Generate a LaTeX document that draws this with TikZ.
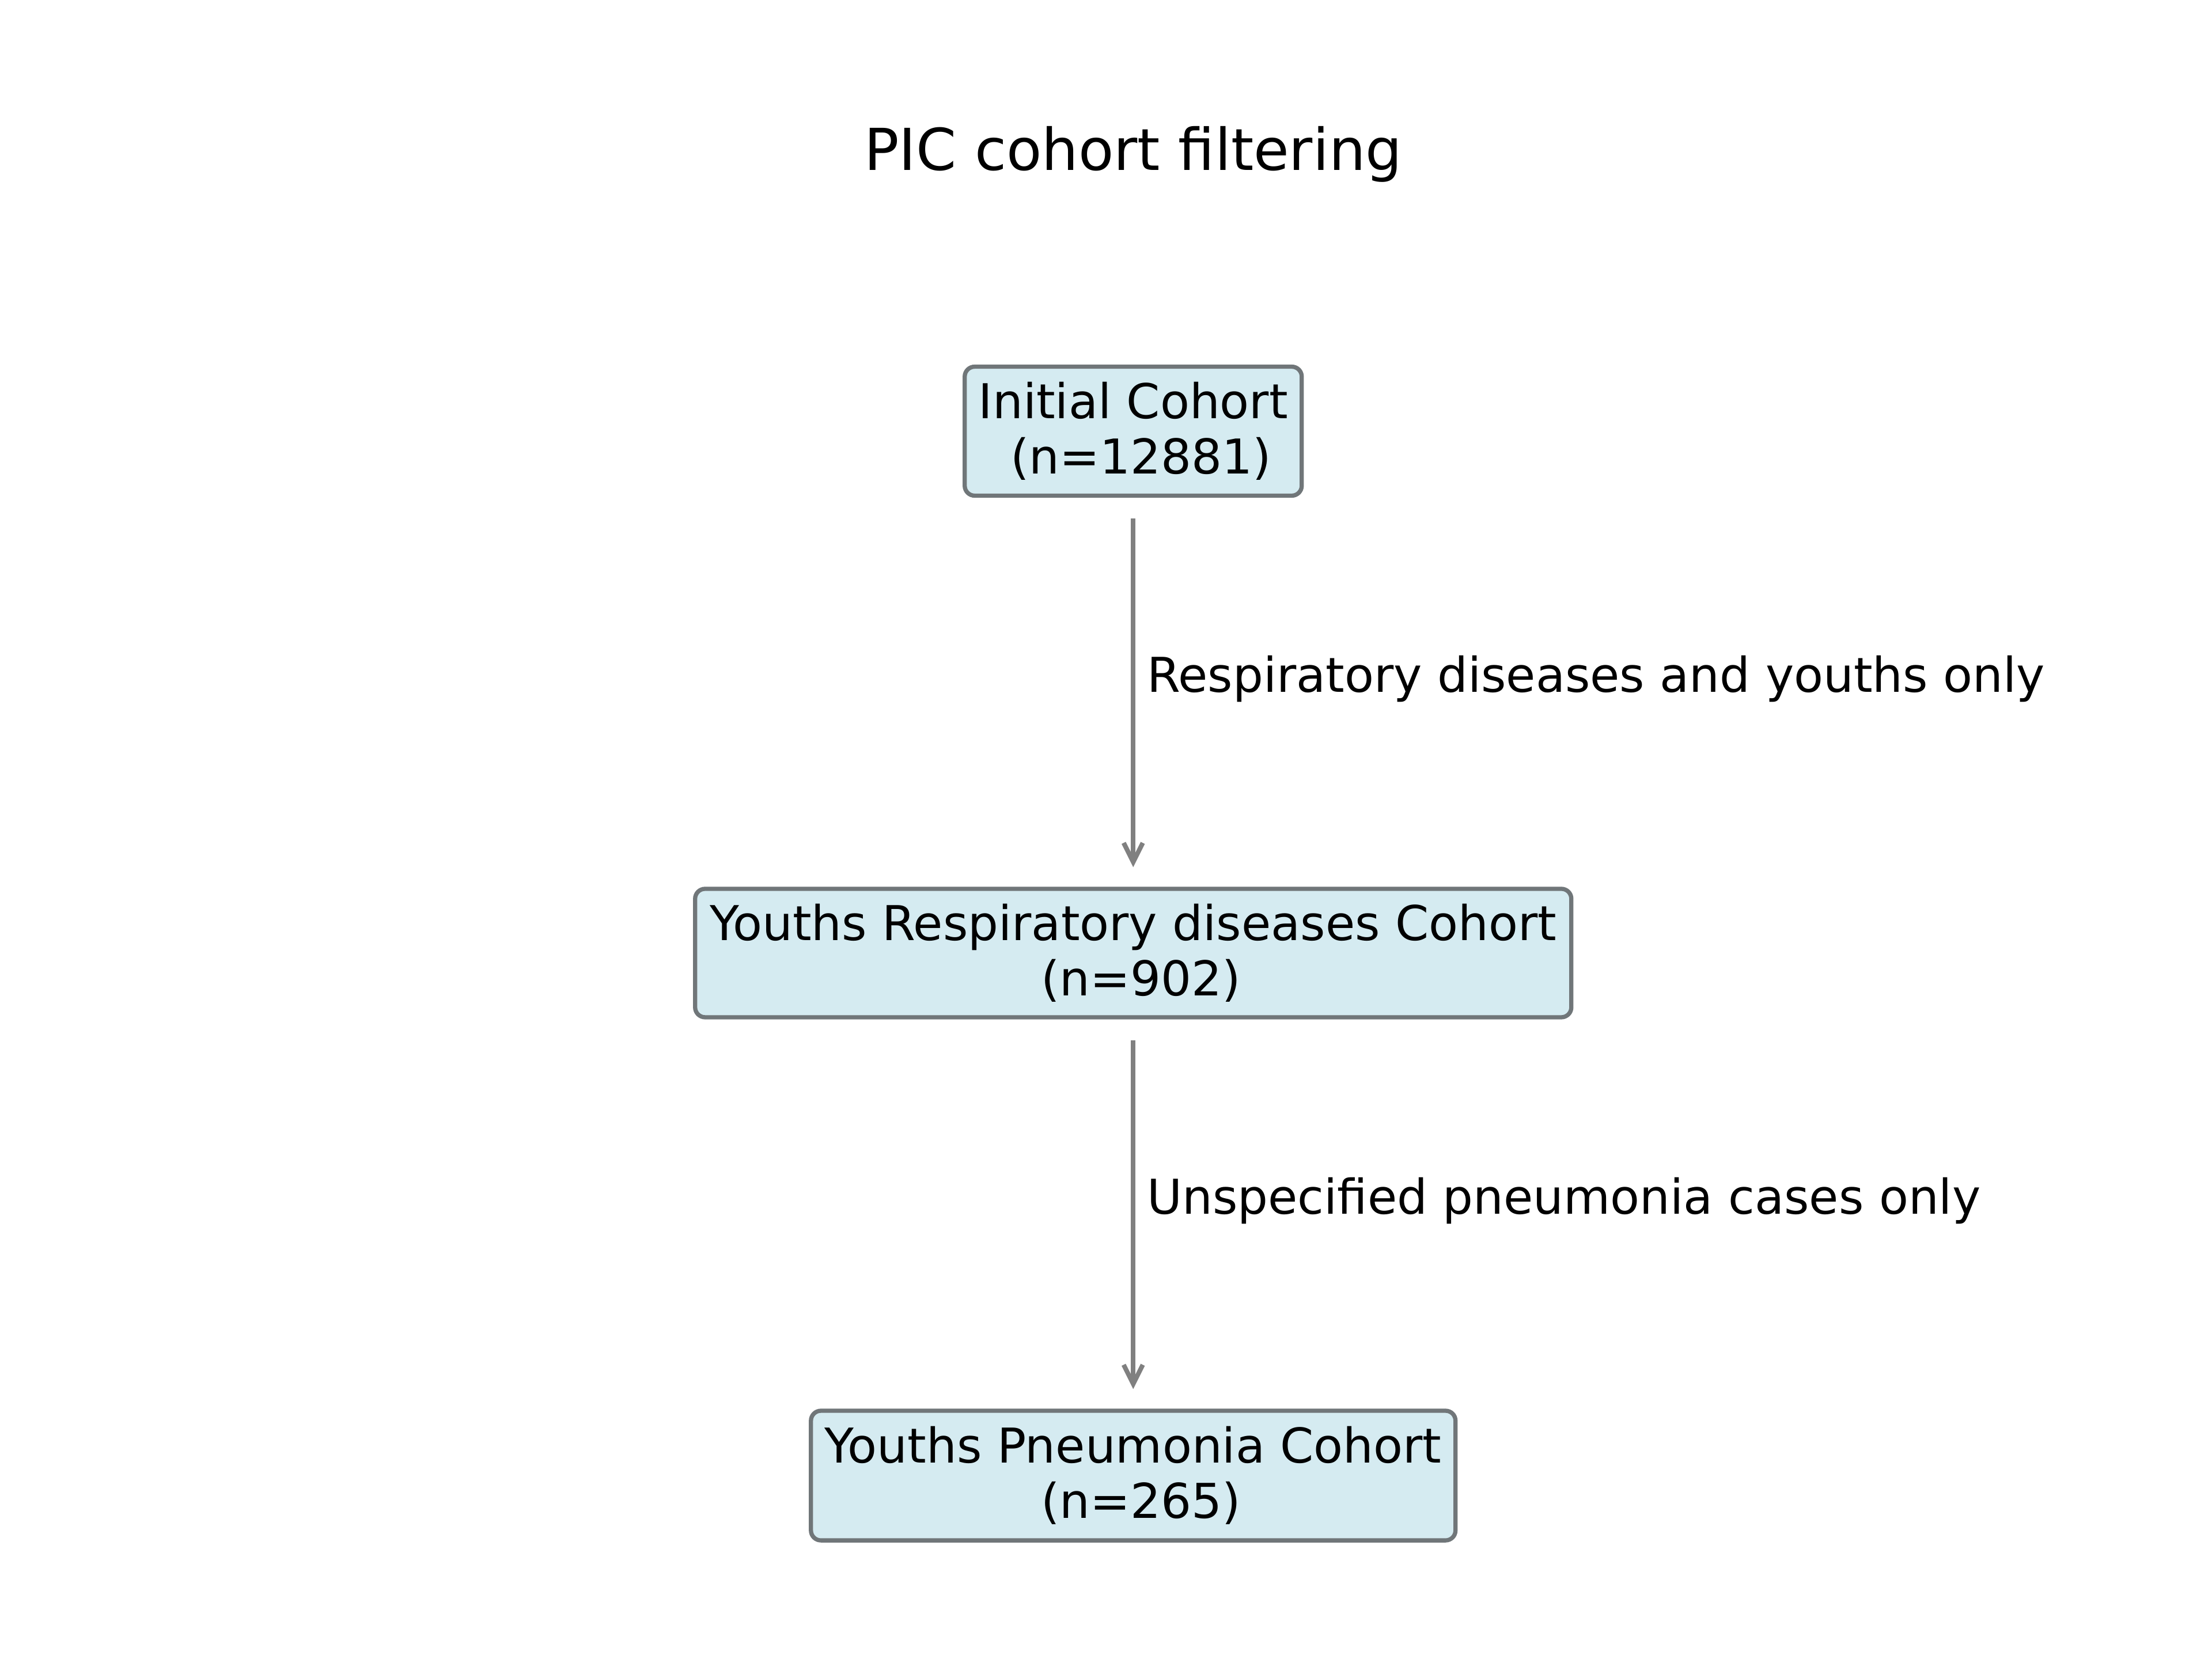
\documentclass[tikz,border=0pt]{standalone}
\usepackage{fontspec}
\setmainfont{DejaVu Sans}
\usepackage{tikz}
\usetikzlibrary{arrows.meta,positioning}
\definecolor{BoxFill}{RGB}{213,235,241}
\definecolor{BoxEdge}{RGB}{112,118,121}
\definecolor{ArrowGray}{RGB}{128,128,128}

\begin{document}
\begin{tikzpicture}[
      cNode/.style={draw=BoxEdge,fill=BoxFill,rounded corners=2.6pt,line width=1.1pt,
                    inner sep=0pt,align=center,text=black,
                    font=\fontsize{12.55}{14.4}\selectfont},
      lbl/.style={anchor=base west,inner sep=0pt,xshift=3pt,text=black,
                  font=\fontsize{12.55}{14.4}\selectfont},
      ar/.style={-{Straight Barb[length=5pt,width=5pt]},line width=1.2pt,color=ArrowGray,
                 shorten <=0.19cm,shorten >=0.18cm}
    ]
    \useasboundingbox (0,0) rectangle (20.32,15.24);

    % Title
    \node(title)[anchor=base,inner sep=0pt,font=\fontsize{15.1}{17}\selectfont] at (10.41,13.674) {PIC cohort filtering};

    % Cohort boxes (top to bottom)
    \node(n1)[cNode,minimum width=3.096cm,minimum height=1.185cm] at (10.41,11.279) {Initial Cohort\\\hspace*{0.318em}(n=12881)};
    \node(n2)[cNode,minimum width=8.049cm,minimum height=1.180cm] at (10.41,6.485) {Youths Respiratory diseases Cohort\\\hspace*{0.318em}(n=902)};
    \node(n3)[cNode,minimum width=5.921cm,minimum height=1.191cm] at (10.41,1.685) {Youths Pneumonia Cohort\\\hspace*{0.318em}(n=265)};

    % Filtering steps
    \draw[ar] (n1.south) -- node(l1)[lbl]{Respiratory diseases and youths only} (n2.north);
    \draw[ar] (n2.south) -- node(l2)[lbl]{Unspecified pneumonia cases only} (n3.north);
  \end{tikzpicture}
\end{document}
